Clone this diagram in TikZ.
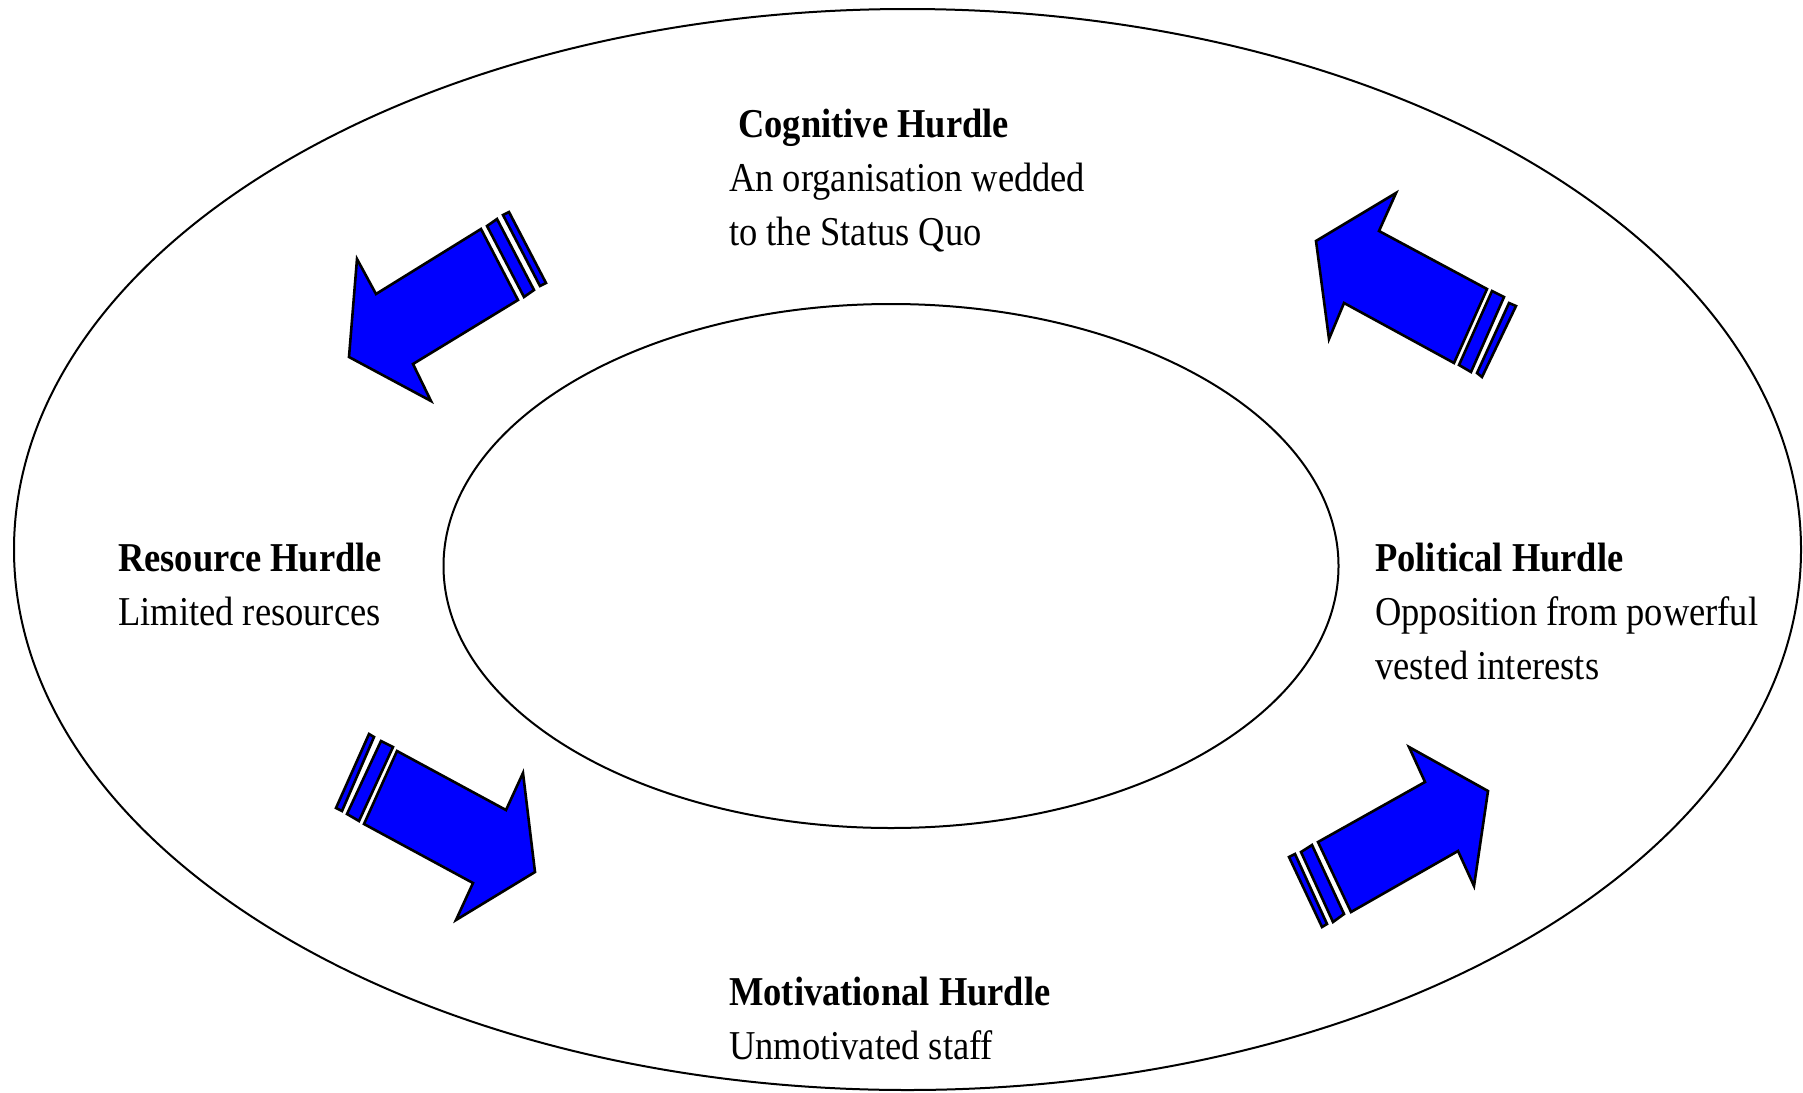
\documentclass[tikz,border=0pt]{standalone}
\usepackage{fontspec}
\setmainfont{Liberation Serif}[FakeStretch=0.89]
\usetikzlibrary{shapes.geometric}
\definecolor{arrowblue}{RGB}{0,0,255}
\tikzset{
  ring/.style={draw=black, line width=2pt, ellipse, inner sep=0pt},
  bigarrow/.style={draw=black, fill=arrowblue, line width=2.6pt, line join=miter},
  title/.style={anchor=base west, inner sep=0pt, font=\fontsize{41}{54}\selectfont\bfseries},
  body/.style={anchor=base west, inner sep=0pt, font=\fontsize{41}{54}\selectfont},
}
\begin{document}
\begin{tikzpicture}[x=1pt, y=-1pt]
\useasboundingbox (0,0) rectangle (1803,1092);

% the two rings
\node[ring, minimum width=1787pt, minimum height=1081pt] (outer) at (907.5,549.5) {};
\node[ring, minimum width=895pt, minimum height=524pt] (inner) at (891,566) {};

% arrow, upper left, pointing down-left
\draw[bigarrow] (349,357) -- (357,259) -- (376,294) -- (481,229) -- (518,300)
  -- (413,364) -- (431,401) -- cycle;
\draw[bigarrow] (487,226) -- (497,219) -- (534,290) -- (524,297) -- cycle;
\draw[bigarrow] (503,215) -- (509,212) -- (546,283) -- (540,286) -- cycle;

% arrow, upper right, pointing up-left
\draw[bigarrow] (1316,241) -- (1396,193) -- (1379,231) -- (1487,289) -- (1454,363)
  -- (1344,303) -- (1329,339) -- cycle;
\draw[bigarrow] (1492,291) -- (1504,297) -- (1471,372) -- (1459,365) -- cycle;
\draw[bigarrow] (1509,303) -- (1516,306) -- (1482,377) -- (1477,373) -- cycle;

% arrow, lower left, pointing down-right
\draw[bigarrow] (535,872) -- (523,773) -- (506,810) -- (397,751) -- (364,824)
  -- (473,883) -- (456,920) -- cycle;
\draw[bigarrow] (381,741) -- (393,747) -- (359,821) -- (347,814) -- cycle;
\draw[bigarrow] (369,734) -- (374,737) -- (342,811) -- (336,808) -- cycle;

% arrow, lower right, pointing up-right
\draw[bigarrow] (1488,791) -- (1409,747) -- (1425,782) -- (1318,842) -- (1351,912)
  -- (1458,851) -- (1474,886) -- cycle;
\draw[bigarrow] (1301,852) -- (1312,845) -- (1344,914) -- (1333,922) -- cycle;
\draw[bigarrow] (1289,857) -- (1295,854) -- (1327,924) -- (1322,927) -- cycle;

% labels
\node[title] (cogT) at (738,137) {Cognitive Hurdle};
\node[body]  (cog1) at (729,191) {An organisation wedded};
\node[body]  (cog2) at (729,245) {to the Status Quo};

\node[title] (resT) at (118,571) {Resource Hurdle};
\node[body]  (res1) at (118,625) {Limited resources};

\node[title] (polT) at (1375,571) {Political Hurdle};
\node[body]  (pol1) at (1375,625) {Opposition from powerful};
\node[body]  (pol2) at (1375,679) {vested interests};

\node[title] (motT) at (729,1005) {Motivational Hurdle};
\node[body]  (mot1) at (729,1059) {Unmotivated staff};
\end{tikzpicture}
\end{document}
